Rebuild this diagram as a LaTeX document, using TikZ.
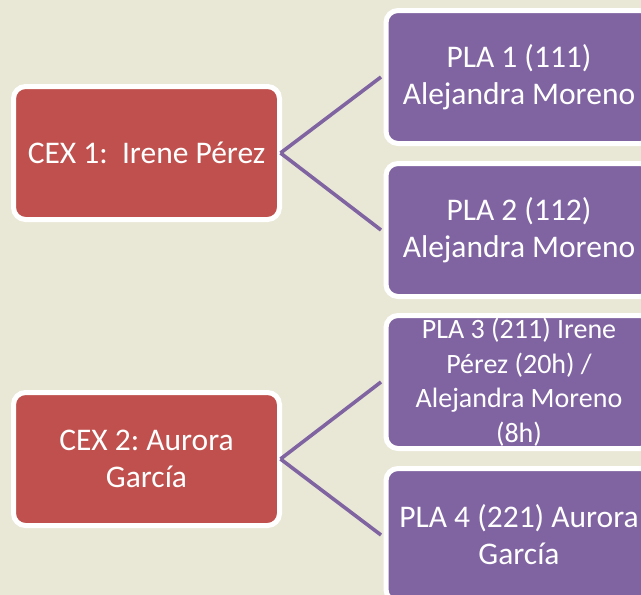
\documentclass[tikz,border=0pt]{standalone}
\usepackage{fontspec}
\setmainfont{Carlito}
\usepackage{tikz}
\frenchspacing

\definecolor{fondo}{HTML}{E9E8D6}
\definecolor{rojo}{HTML}{C0504D}
\definecolor{morado}{HTML}{8064A2}

\tikzset{
	caja/.style={draw=white, line width=5pt, rounded corners=12pt, text=white,
		minimum width=266pt, minimum height=133pt, inner sep=0pt, align=center,
		font=\fontsize{31.5}{37}\selectfont},
	cex/.style={caja, fill=rojo},
	pla/.style={caja, fill=morado},
	enlace/.style={draw=morado, line width=3.6pt}
}

\begin{document}
\begin{tikzpicture}[x=1pt, y=-1pt]
		% Background.
		\clip (0,0) rectangle (641,595);
		\fill[fondo] (0,0) rectangle (641,595);
		
		% Centros.
		\node[cex] (cex1) at (146.5,153) {CEX 1:~ Irene Pérez};
		\node[cex] (cex2) at (146.5,459) {CEX 2: Aurora\\García};
		
		% Plazas.
		\node[pla] (pla1) at (519,77) {PLA 1 (111)\\Alejandra Moreno};
		\node[pla] (pla2) at (519,230) {PLA 2 (112)\\Alejandra Moreno};
		\node[pla, font=\fontsize{28}{34.5}\selectfont] (pla3) at (519,382)
			{PLA 3 (211) Irene\\Pérez (20h) /\\Alejandra Moreno\\(8h)};
		\node[pla] (pla4) at (519,535) {PLA 4 (221) Aurora\\García};
		
		% Enlaces.
		\draw[enlace]	([xshift=-1.5pt]cex1.east) -- ([xshift=-2.5pt]pla1.west)
						([xshift=-1.5pt]cex1.east) -- ([xshift=-2.5pt]pla2.west);
		\draw[enlace]	([xshift=-1.5pt]cex2.east) -- ([xshift=-2.5pt]pla3.west)
						([xshift=-1.5pt]cex2.east) -- ([xshift=-2.5pt]pla4.west);
	\end{tikzpicture}
\end{document}
